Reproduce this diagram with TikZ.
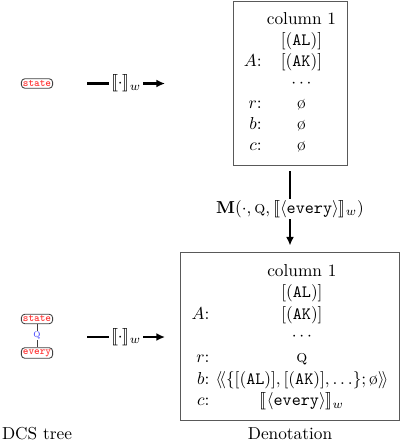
\documentclass[tikz,border=0pt]{standalone}
\usepackage{stmaryrd}
\usetikzlibrary{arrows.meta}
\definecolor{treered}{RGB}{255,55,55}
\definecolor{treeblue}{RGB}{60,60,255}
\begin{document}
\begin{tikzpicture}[x=0.578pt,y=-0.578pt,
  treenode/.style={draw=black!75, rounded corners=2pt, inner xsep=0.9pt, inner ysep=1pt,
    font=\fontsize{6.2}{7}\selectfont\ttfamily\bfseries, text=treered, line width=0.5pt},
  treeedge/.style={draw=black!75, line width=0.5pt},
  rel/.style={font=\fontsize{6.5}{7}\selectfont, text=treeblue, fill=white, inner sep=0.5pt},
  denbox/.style={draw=black!65, inner xsep=6.3pt, inner ysep=5.1pt, line width=0.55pt},
  maparrow/.style={line width=1.2pt, -{Latex[length=5pt,width=4.6pt]}},
  maplabel/.style={fill=white, inner sep=1pt},
  caption/.style={anchor=base},
]
\useasboundingbox (0,0) rectangle (402,441);

% DCS trees
\node[treenode] (s1) at (37,83.5) {state};
\node[treenode] (s2) at (37,319) {state};
\node[treenode] (e2) at (37,353) {every};
\draw[treeedge] (s2) -- node[rel] (q) {\textsc{q}} (e2);

% denotations
\node[denbox] (d1) at (290,83.5) {%
\def\arraystretch{1.01}%
\begin{tabular}{@{}r@{\hspace{3pt}}c@{}}
 & column 1\\
 & [(\texttt{AL})]\\
$A$: & [(\texttt{AK})]\\
 & $\cdots$\\
$r$: & \o\\
$b$: & \o\\
$c$: & \o
\end{tabular}};

\node[denbox] (d2) at (290,336.5) {%
\def\arraystretch{1.04}%
\begin{tabular}{@{}r@{\hspace{3.5pt}}c@{}}
 & column 1\\
 & [(\texttt{AL})]\\
$A$: & [(\texttt{AK})]\\
 & $\cdots$\\
$r$: & \textsc{q}\\
$b$: & $\langle\!\langle\{[(\texttt{AL})],[(\texttt{AK})],\dots\};\mbox{\o}\rangle\!\rangle$\\
$c$: & $\llbracket\langle\texttt{every}\rangle\rrbracket_w$
\end{tabular}};

% mapping arrows
\coordinate (a1s) at (87,83.5);
\coordinate (a1e) at (165,83.5);
\coordinate (a2s) at (87,337);
\coordinate (a2e) at (165,337);
\draw[maparrow] (a1s) -- node[maplabel] (l1) {$\llbracket\cdot\rrbracket_w$} (a1e);
\draw[maparrow] (a2s) -- node[maplabel] (l2) {$\llbracket\cdot\rrbracket_w$} (a2e);
\draw[maparrow, shorten <=2.9pt, shorten >=3.5pt] (d1) --
  node[maplabel] (lm) {$\mathbf{M}(\cdot,\textsc{q},\llbracket\langle\texttt{every}\rangle\rrbracket_w)$} (d2);

% captions
\node[caption] (c1) at (37,439) {DCS tree};
\node[caption] (c2) at (290,439) {Denotation};
\end{tikzpicture}
\end{document}
